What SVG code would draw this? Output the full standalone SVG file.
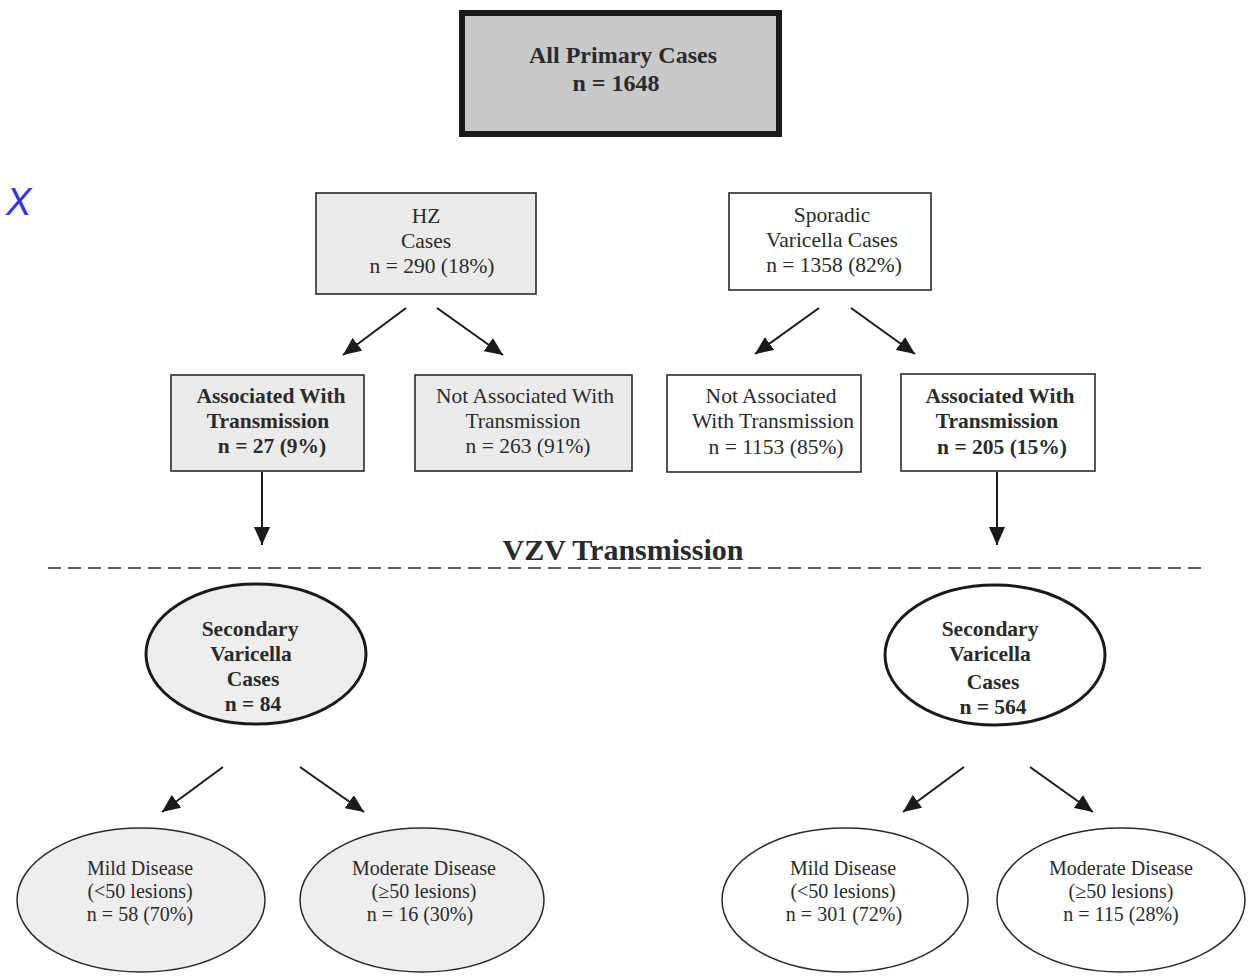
<svg xmlns="http://www.w3.org/2000/svg" width="1249" height="980" viewBox="0 0 1249 980">
<defs>
<marker id="ah" markerUnits="userSpaceOnUse" markerWidth="20" markerHeight="16" refX="18" refY="8" orient="auto">
<path d="M0,0 L18,8 L0,16 z" fill="#1a1a1a"/>
</marker>
<style>
text{font-family:"Liberation Serif","Times New Roman",serif;fill:#2a2a2a;text-anchor:middle}
.b{font-weight:bold}
.t20{font-size:21.5px}
.t18{font-size:20px}
.box{stroke:#2a2a2a;stroke-width:1.6}
.gray{fill:#ebebeb}
.white{fill:#ffffff}
.conn line{stroke:#1a1a1a;stroke-width:2;marker-end:url(#ah)}
</style>
</defs>
<rect width="1249" height="980" fill="#ffffff"/>
<text x="6" y="215" style="font-family:'Liberation Sans',Arial,sans-serif;font-style:italic;font-size:38px;fill:#3535e0;text-anchor:start">X</text>

<g id="all">
<rect x="462" y="13" width="317" height="121" fill="#c9c9c9" stroke="#1a1a1a" stroke-width="6"/>
<text x="623" y="63" class="b" font-size="24">All Primary Cases</text>
<text x="616" y="91" class="b" font-size="24">n = 1648</text>
</g>

<g id="hz">
<rect x="316" y="193" width="220" height="101" class="box gray"/>
<text x="426" y="223" class="t20">HZ</text>
<text x="426" y="248" class="t20">Cases</text>
<text x="432" y="273" class="t20">n = 290 (18%)</text>
</g>

<g id="sporadic">
<rect x="729" y="193" width="202" height="97" class="box white"/>
<text x="832" y="222" class="t20">Sporadic</text>
<text x="832" y="247" class="t20">Varicella Cases</text>
<text x="834" y="272" class="t20">n = 1358 (82%)</text>
</g>

<g id="hz-assoc">
<rect x="171" y="375" width="193" height="96" class="box gray"/>
<text x="271" y="403" class="t20 b">Associated With</text>
<text x="268" y="428" class="t20 b">Transmission</text>
<text x="272" y="453" class="t20 b">n = 27 (9%)</text>
</g>

<g id="hz-notassoc">
<rect x="415" y="375" width="217" height="96" class="box gray"/>
<text x="525" y="403" class="t20">Not Associated With</text>
<text x="523" y="428" class="t20">Transmission</text>
<text x="528" y="453" class="t20">n = 263 (91%)</text>
</g>

<g id="sp-notassoc">
<rect x="667" y="375" width="194" height="97" class="box white"/>
<text x="771" y="403" class="t20">Not Associated</text>
<text x="773" y="428" class="t20">With Transmission</text>
<text x="776" y="454" class="t20">n = 1153 (85%)</text>
</g>

<g id="sp-assoc">
<rect x="901" y="374" width="194" height="97" class="box white"/>
<text x="1000" y="403" class="t20 b">Associated With</text>
<text x="997" y="428" class="t20 b">Transmission</text>
<text x="1002" y="454" class="t20 b">n = 205 (15%)</text>
</g>

<g id="divider">
<text x="623" y="560" class="b" font-size="30">VZV Transmission</text>
<line x1="48" y1="568" x2="1202" y2="568" stroke="#2a2a2a" stroke-width="1.6" stroke-dasharray="13,7"/>
</g>

<g id="sec-left">
<ellipse cx="256" cy="654" rx="110" ry="70" fill="#eeeeee" stroke="#1a1a1a" stroke-width="3"/>
<text x="250" y="636" class="t20 b">Secondary</text>
<text x="251" y="661" class="t20 b">Varicella</text>
<text x="253" y="686" class="t20 b">Cases</text>
<text x="253" y="711" class="t20 b">n = 84</text>
</g>

<g id="sec-right">
<ellipse cx="995" cy="655" rx="110" ry="70" fill="#ffffff" stroke="#1a1a1a" stroke-width="3"/>
<text x="990" y="636" class="t20 b">Secondary</text>
<text x="990" y="661" class="t20 b">Varicella</text>
<text x="993" y="689" class="t20 b">Cases</text>
<text x="993" y="714" class="t20 b">n = 564</text>
</g>

<g id="mild-left">
<ellipse cx="141" cy="900" rx="124" ry="72" fill="#eeeeee" stroke="#2a2a2a" stroke-width="1.5"/>
<text x="140" y="875" class="t18">Mild Disease</text>
<text x="140" y="898" class="t18">(&lt;50 lesions)</text>
<text x="140" y="921" class="t18">n = 58 (70%)</text>
</g>

<g id="mod-left">
<ellipse cx="422" cy="900" rx="122" ry="72" fill="#eeeeee" stroke="#2a2a2a" stroke-width="1.5"/>
<text x="424" y="875" class="t18">Moderate Disease</text>
<text x="424" y="898" class="t18">(≥50 lesions)</text>
<text x="420" y="921" class="t18">n = 16 (30%)</text>
</g>

<g id="mild-right">
<ellipse cx="845" cy="900" rx="123" ry="72" fill="#ffffff" stroke="#2a2a2a" stroke-width="1.5"/>
<text x="843" y="875" class="t18">Mild Disease</text>
<text x="843" y="898" class="t18">(&lt;50 lesions)</text>
<text x="844" y="921" class="t18">n = 301 (72%)</text>
</g>

<g id="mod-right">
<ellipse cx="1121" cy="900" rx="124" ry="72" fill="#ffffff" stroke="#2a2a2a" stroke-width="1.5"/>
<text x="1121" y="875" class="t18">Moderate Disease</text>
<text x="1121" y="898" class="t18">(≥50 lesions)</text>
<text x="1121" y="921" class="t18">n = 115 (28%)</text>
</g>

<g id="connectors" class="conn">
<line x1="406" y1="308" x2="343" y2="355"/>
<line x1="437" y1="308" x2="503" y2="355"/>
<line x1="819" y1="308" x2="755" y2="354"/>
<line x1="851" y1="308" x2="915" y2="354"/>
<line x1="262" y1="472" x2="262" y2="545"/>
<line x1="997" y1="472" x2="997" y2="545"/>
<line x1="223" y1="767" x2="162" y2="812"/>
<line x1="300" y1="767" x2="364" y2="812"/>
<line x1="964" y1="767" x2="903" y2="812"/>
<line x1="1030" y1="767" x2="1093" y2="812"/>
</g>
</svg>
